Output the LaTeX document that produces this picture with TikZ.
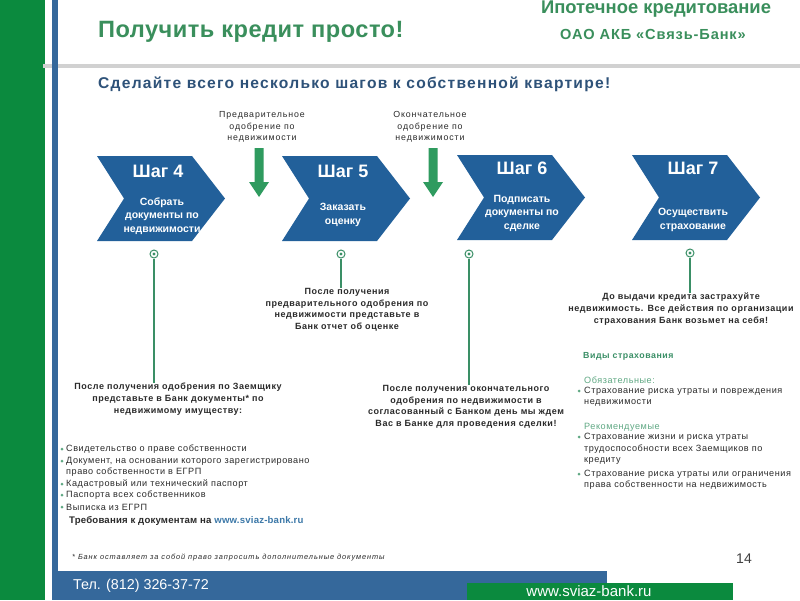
\documentclass[tikz,border=0pt]{standalone}
\usepackage{fontspec}
\setmainfont{Liberation Sans}
\newfontfamily\lsA[LetterSpace=2]{Liberation Sans}
\newfontfamily\lsB[LetterSpace=6]{Liberation Sans}
\newfontfamily\lsC[LetterSpace=8]{Liberation Sans}
\newfontfamily\lsD[LetterSpace=10]{Liberation Sans}
\newfontfamily\lsE[LetterSpace=12]{Liberation Sans}
\usetikzlibrary{arrows.meta}
\definecolor{bandgreen}{HTML}{0B8A3E}
\definecolor{titlegreen}{HTML}{3A8F5C}
\definecolor{chevblue}{HTML}{22609A}
\definecolor{subblue}{HTML}{2E5279}
\definecolor{footblue}{HTML}{35689B}
\definecolor{arrowgreen}{HTML}{2F9B5F}
\definecolor{pingreen}{HTML}{3A8F66}
\definecolor{textgray}{HTML}{2A2A2A}
\definecolor{lightgreen}{HTML}{5FA883}
\definecolor{linkblue}{HTML}{3C78A8}
\begin{document}
\begin{tikzpicture}[x=1pt,y=-1pt,
  chevron/.pic={\fill[chevblue] (0,0) -- (95,0) -- (128,42.5) -- (95,85) -- (0,85) -- (27,42.5) -- cycle;},
  garrow/.pic={\fill[arrowgreen] (-4.5,0) -- (4.5,0) -- (4.5,34) -- (10,34) -- (0,49) -- (-10,34) -- (-4.5,34) -- cycle;},
  steptitle/.style={text=white,font=\bfseries\fontsize{18}{18}\selectfont},
  stepbody/.style={text=white,align=center,font=\bfseries\fontsize{10.5}{13.5}\selectfont},
  arrlabel/.style={text=textgray,align=center,font=\lsD\fontsize{8.8}{11.5}\selectfont},
  note/.style={text=textgray,align=center,font=\lsB\bfseries\fontsize{9}{11.7}\selectfont,inner sep=0pt},
  pin/.style={circle,draw=pingreen,fill=white,line width=1pt,minimum size=8pt,inner sep=0pt,
    path picture={\fill[pingreen] (path picture bounding box.center) circle (1.6pt);}},
  pinline/.style={draw=pingreen,line width=1.6pt},
  listtxt/.style={text=textgray,anchor=west,inner sep=0pt,font=\lsB\fontsize{9.1}{11.5}\selectfont},
  bul/.style={circle,fill=lightgreen,minimum size=3pt,inner sep=0pt},
]
\useasboundingbox (0,0) rectangle (800,600);
\fill[white] (0,0) rectangle (800,600);
% frame
\fill[bandgreen] (0,0) rectangle (45,600);
\fill[black!18] (43,63.5) rectangle (800,68);
\fill[footblue] (52,0) rectangle (58,600);
\fill[footblue] (52,571) rectangle (607,600);
\fill[bandgreen] (467,583) rectangle (733,600);
% header
\node[anchor=base west,text=titlegreen,font=\lsA\bfseries\fontsize{23.6}{23.6}\selectfont,inner sep=0pt] (title) at (98,37.3) {Получить кредит просто!};
\node[anchor=base,text=titlegreen,font=\bfseries\fontsize{18.4}{18}\selectfont,inner sep=0pt] (hdr1) at (656,13.3) {Ипотечное кредитование};
\node[anchor=base,text=titlegreen,font=\lsB\bfseries\fontsize{14.6}{14}\selectfont,inner sep=0pt] (hdr2) at (653,39.3) {ОАО АКБ «Связь-Банк»};
\node[anchor=base west,text=subblue,font=\lsC\bfseries\fontsize{15.6}{15.6}\selectfont,inner sep=0pt] (sub) at (98,88.5) {Сделайте всего несколько шагов к собственной квартире!};
% chevrons
\pic at (97,156) {chevron};
\pic at (282,156) {chevron};
\pic at (457,155) {chevron};
\pic at (632,155) {chevron};
\node[steptitle] (s4) at (158,171) {Шаг 4};
\node[stepbody] (b4) at (162,216) {Собрать\\документы по\\недвижимости};
\node[steptitle] (s5) at (343,171) {Шаг 5};
\node[stepbody] (b5) at (343,215) {Заказать\\оценку};
\node[steptitle] (s6) at (522,168) {Шаг 6};
\node[stepbody] (b6) at (522,213) {Подписать\\документы по\\сделке};
\node[steptitle] (s7) at (693,168) {Шаг 7};
\node[stepbody] (b7) at (693,220) {Осуществить\\страхование};
% approval arrows
\node[arrlabel] (a1) at (262,127) {Предварительное\\одобрение по\\недвижимости};
\node[arrlabel] (a2) at (430,127) {Окончательное\\одобрение по\\недвижимости};
\pic at (259,148) {garrow};
\pic at (433,148) {garrow};
% pins
\node[pin] (p4) at (154,254) {};
\node[pin] (p5) at (341,254) {};
\node[pin] (p6) at (469,254) {};
\node[pin] (p7) at (690,253) {};
% notes
\node[note,anchor=north] (t4) at (178,383) {После получения одобрения по Заемщику\\представьте в Банк документы* по\\недвижимому имуществу:};
\node[note,anchor=north] (t5) at (347,288) {После получения\\предварительного одобрения по\\недвижимости представьте в\\Банк отчет об оценке};
\node[note,anchor=north] (t6) at (466,385) {После получения окончательного\\одобрения по недвижимости в\\согласованный с Банком день мы ждем\\Вас в Банке для проведения сделки!};
\node[note,anchor=north] (t7) at (681,293) {До выдачи кредита застрахуйте\\недвижимость. Все действия по организации\\страхования Банк возьмет на себя!};
\draw[pinline] (p4) -- (p4 |- t4.north);
\draw[pinline] (p5) -- (p5 |- t5.north);
\draw[pinline] (p6) -- (p6 |- t6.north);
\draw[pinline] (p7) -- (p7 |- t7.north);
% left list
\node[bul] (l1b) at (62,449) {};
\node[listtxt] (l1) at (66,449) {Свидетельство о праве собственности};
\node[bul] (l2b) at (62,461) {};
\node[listtxt] (l2) at (66,461) {Документ, на основании которого зарегистрировано};
\node[listtxt] (l2c) at (66,472) {право собственности в ЕГРП};
\node[bul] (l3b) at (62,484) {};
\node[listtxt] (l3) at (66,484) {Кадастровый или технический паспорт};
\node[bul] (l4b) at (62,495) {};
\node[listtxt] (l4) at (66,495) {Паспорта всех собственников};
\node[bul] (l5b) at (62,507) {};
\node[listtxt] (l5) at (66,507) {Выписка из ЕГРП};
\node[listtxt,font=\lsA\bfseries\fontsize{9.6}{11}\selectfont] (req) at (69,521) {Требования к документам на \textcolor{linkblue}{www.sviaz-bank.ru}};
\node[listtxt,font=\lsE\itshape\fontsize{7.4}{8}\selectfont] (foot) at (72,558) {* Банк оставляет за собой право запросить дополнительные документы};
% right list
\node[listtxt,text=pingreen,font=\lsB\bfseries\fontsize{8.8}{11}\selectfont] (r0) at (583,356) {Виды страхования};
\node[listtxt,text=lightgreen] (r1) at (584,380) {Обязательные:};
\node[bul] (r2b) at (579,391) {};
\node[listtxt] (r2) at (584,391) {Страхование риска утраты и повреждения};
\node[listtxt] (r2c) at (584,403) {недвижимости};
\node[listtxt,text=lightgreen] (r3) at (584,427) {Рекомендуемые};
\node[bul] (r4b) at (579,437) {};
\node[listtxt] (r4) at (584,437) {Страхование жизни и риска утраты};
\node[listtxt] (r4c) at (584,449) {трудоспособности всех Заемщиков по};
\node[listtxt] (r4d) at (584,461) {кредиту};
\node[bul] (r5b) at (579,474) {};
\node[listtxt] (r5) at (584,474) {Страхование риска утраты или ограничения};
\node[listtxt] (r5c) at (584,485) {права собственности на недвижимость};
% footer
\node[anchor=west,text=white,font=\fontsize{14.3}{14}\selectfont,inner sep=0pt] (tel) at (73,586) {Тел. (812) 326-37-72};
\node[text=white,font=\fontsize{15}{15}\selectfont,inner sep=0pt] (www) at (589,591.3) {www.sviaz-bank.ru};
\node[text=black!75,font=\fontsize{14}{14}\selectfont,inner sep=0pt] (pg) at (744,559) {14};
\end{tikzpicture}
\end{document}
